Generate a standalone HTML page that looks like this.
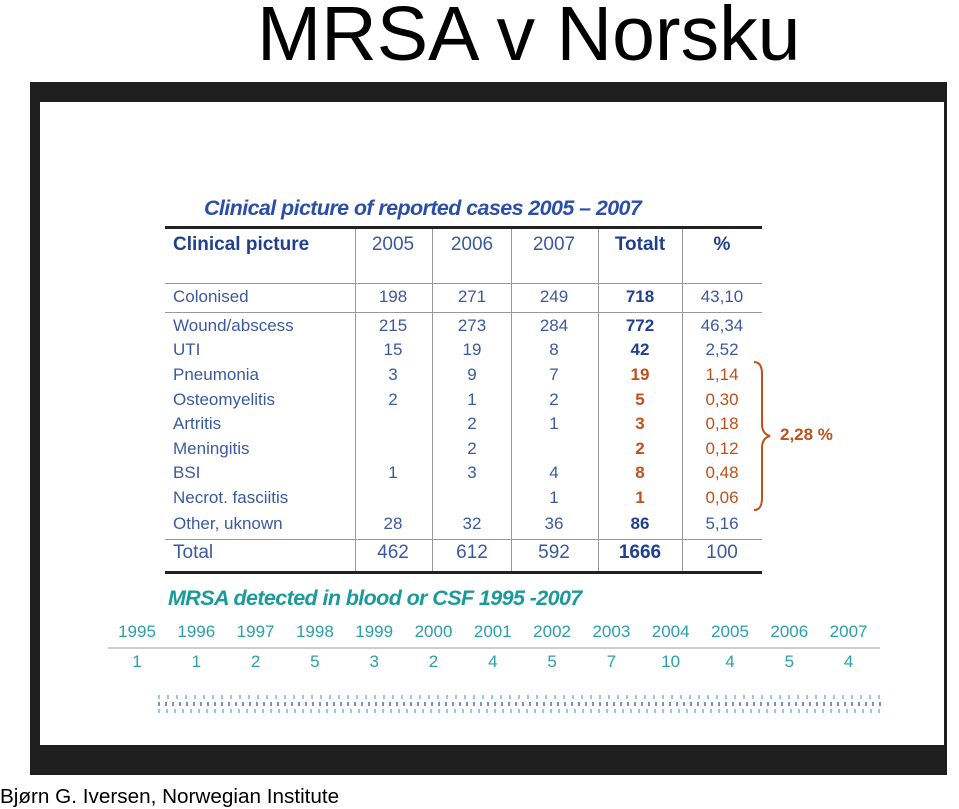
<!DOCTYPE html>
<html><head><meta charset="utf-8"><style>
body{margin:0;width:959px;height:809px;position:relative;background:#fff;overflow:hidden;font-family:"Liberation Sans",sans-serif}
.a{position:absolute;white-space:nowrap}
.t{font-size:17px;color:#3a5aa0;transform:translateY(-50%)}
.c{text-align:center;width:80px;margin-left:-40px}
.b{font-weight:bold;color:#1f3f8f}
.o{color:#c0501a}
.ob{color:#c0501a;font-weight:bold}
.ln{position:absolute;background:#999}
</style></head><body>
<div class="a" style="left:257px;top:-10px;font-size:77px;color:#000">MRSA v Norsku</div>
<div class="a" style="left:30px;top:82px;width:917px;height:693px;background:#1e1e1e"></div>
<div class="a" style="left:40px;top:102px;width:904px;height:643px;background:#fff"></div>
<div class="a" style="left:204px;top:196px;font-size:21.5px;font-style:italic;font-weight:bold;color:#2b4fa8;letter-spacing:-0.6px">Clinical picture of reported cases 2005 – 2007</div>
<div class="ln" style="left:165px;top:226px;width:597px;height:3px;background:#222"></div>
<div class="ln" style="left:165px;top:571px;width:597px;height:3px;background:#222"></div>
<div class="ln" style="left:165px;top:283px;width:597px;height:1px"></div>
<div class="ln" style="left:165px;top:312px;width:597px;height:1px"></div>
<div class="ln" style="left:165px;top:539px;width:597px;height:1px"></div>
<div class="ln" style="left:355px;top:229px;width:1px;height:342px"></div>
<div class="ln" style="left:432px;top:229px;width:1px;height:342px"></div>
<div class="ln" style="left:511px;top:229px;width:1px;height:342px"></div>
<div class="ln" style="left:598px;top:229px;width:1px;height:342px"></div>
<div class="ln" style="left:682px;top:229px;width:1px;height:342px"></div>
<div id="tbl"></div>
<svg class="a" style="left:748px;top:360px" width="30" height="152"><path d="M6 2 Q14 2 14 14 L14 64 Q14 74 22 76 Q14 78 14 88 L14 138 Q14 150 6 150" fill="none" stroke="#c0501a" stroke-width="2"/></svg>
<div class="a t ob" style="left:780px;top:435px">2,28 %</div>
<div class="a" style="left:168px;top:586px;font-size:21.5px;font-style:italic;font-weight:bold;color:#1a9a9a;letter-spacing:-0.6px">MRSA detected in blood or CSF 1995 -2007</div>
<div class="ln" style="left:108px;top:647px;width:772px;height:2px;background:#ccc"></div>
<div id="yrs"></div>
<div class="a" style="left:158px;top:695px;width:724px;height:4px;background:repeating-linear-gradient(90deg,#4aa8c8 0 2px,transparent 2px 9px);opacity:.6"></div>
<div class="a" style="left:158px;top:702px;width:724px;height:4px;background:repeating-linear-gradient(90deg,#2a4a8a 0 2px,transparent 2px 7px);opacity:.6"></div>
<div class="a" style="left:158px;top:709px;width:724px;height:4px;background:repeating-linear-gradient(90deg,#4aa8c8 0 2px,transparent 2px 8px);opacity:.6"></div>
<div class="a" style="left:0;top:785px;font-size:20.7px;color:#000">Bjørn G. Iversen, Norwegian Institute</div>
<script>
const rowLabels=["Colonised","Wound/abscess","UTI","Pneumonia","Osteomyelitis","Artritis","Meningitis","BSI","Necrot. fasciitis","Other, uknown","Total"];
const v2005=["198","215","15","3","2","","","1","","28","462"];
const v2006=["271","273","19","9","1","2","2","3","","32","612"];
const v2007=["249","284","8","7","2","1","","4","1","36","592"];
const totals=["718","772","42","19","5","3","2","8","1","86","1666"];
const pct=["43,10","46,34","2,52","1,14","0,30","0,18","0,12","0,48","0,06","5,16","100"];
const rowY=[297,326,350,375,400,424,449,473,498,524,553];
const T=document.getElementById('tbl');
function add(par,txt,cls,x,y,name){const d=document.createElement('div');d.className='a t '+cls;d.style.left=x+'px';d.style.top=y+'px';d.textContent=txt;


par.appendChild(d);return d;}
add(T,"Clinical picture","b",173,245,'header-clinical').style.fontSize='19px';
[["2005",393],["2006",472],["2007",554],["Totalt",640],["%",722]].forEach((h,i)=>{add(T,h[0],'c'+(i>=3?' b':''),h[1],245,'header-col').style.fontSize='19px';});
rowLabels.forEach((l,i)=>{const y=rowY[i];const big=i==10;
add(T,l,'',173,y,'row-label');
add(T,v2005[i],'c',393,y,'cell-2005');add(T,v2006[i],'c',472,y,'cell-2006');add(T,v2007[i],'c',554,y,'cell-2007');
const org=i>=3&&i<=8;add(T,totals[i],'c '+(org?'ob':'b'),640,y,'cell-total');add(T,pct[i],'c'+(org?' o':''),722,y,'cell-percent');
if(big){[...T.children].slice(-6).forEach(e=>e.style.fontSize='19px');}
});
const years=["1995","1996","1997","1998","1999","2000","2001","2002","2003","2004","2005","2006","2007"];
const counts=[1,1,2,5,3,2,4,5,7,10,4,5,4];
const Y=document.getElementById('yrs');
years.forEach((yr,i)=>{const x=137+i*59.3;
const a=add(Y,yr,'c',x,632,'year-label');a.style.color='#2aa0a8';
const b=add(Y,String(counts[i]),'c',x,662,'year-count');b.style.color='#2aa0a8';});
</script>
</body></html>
